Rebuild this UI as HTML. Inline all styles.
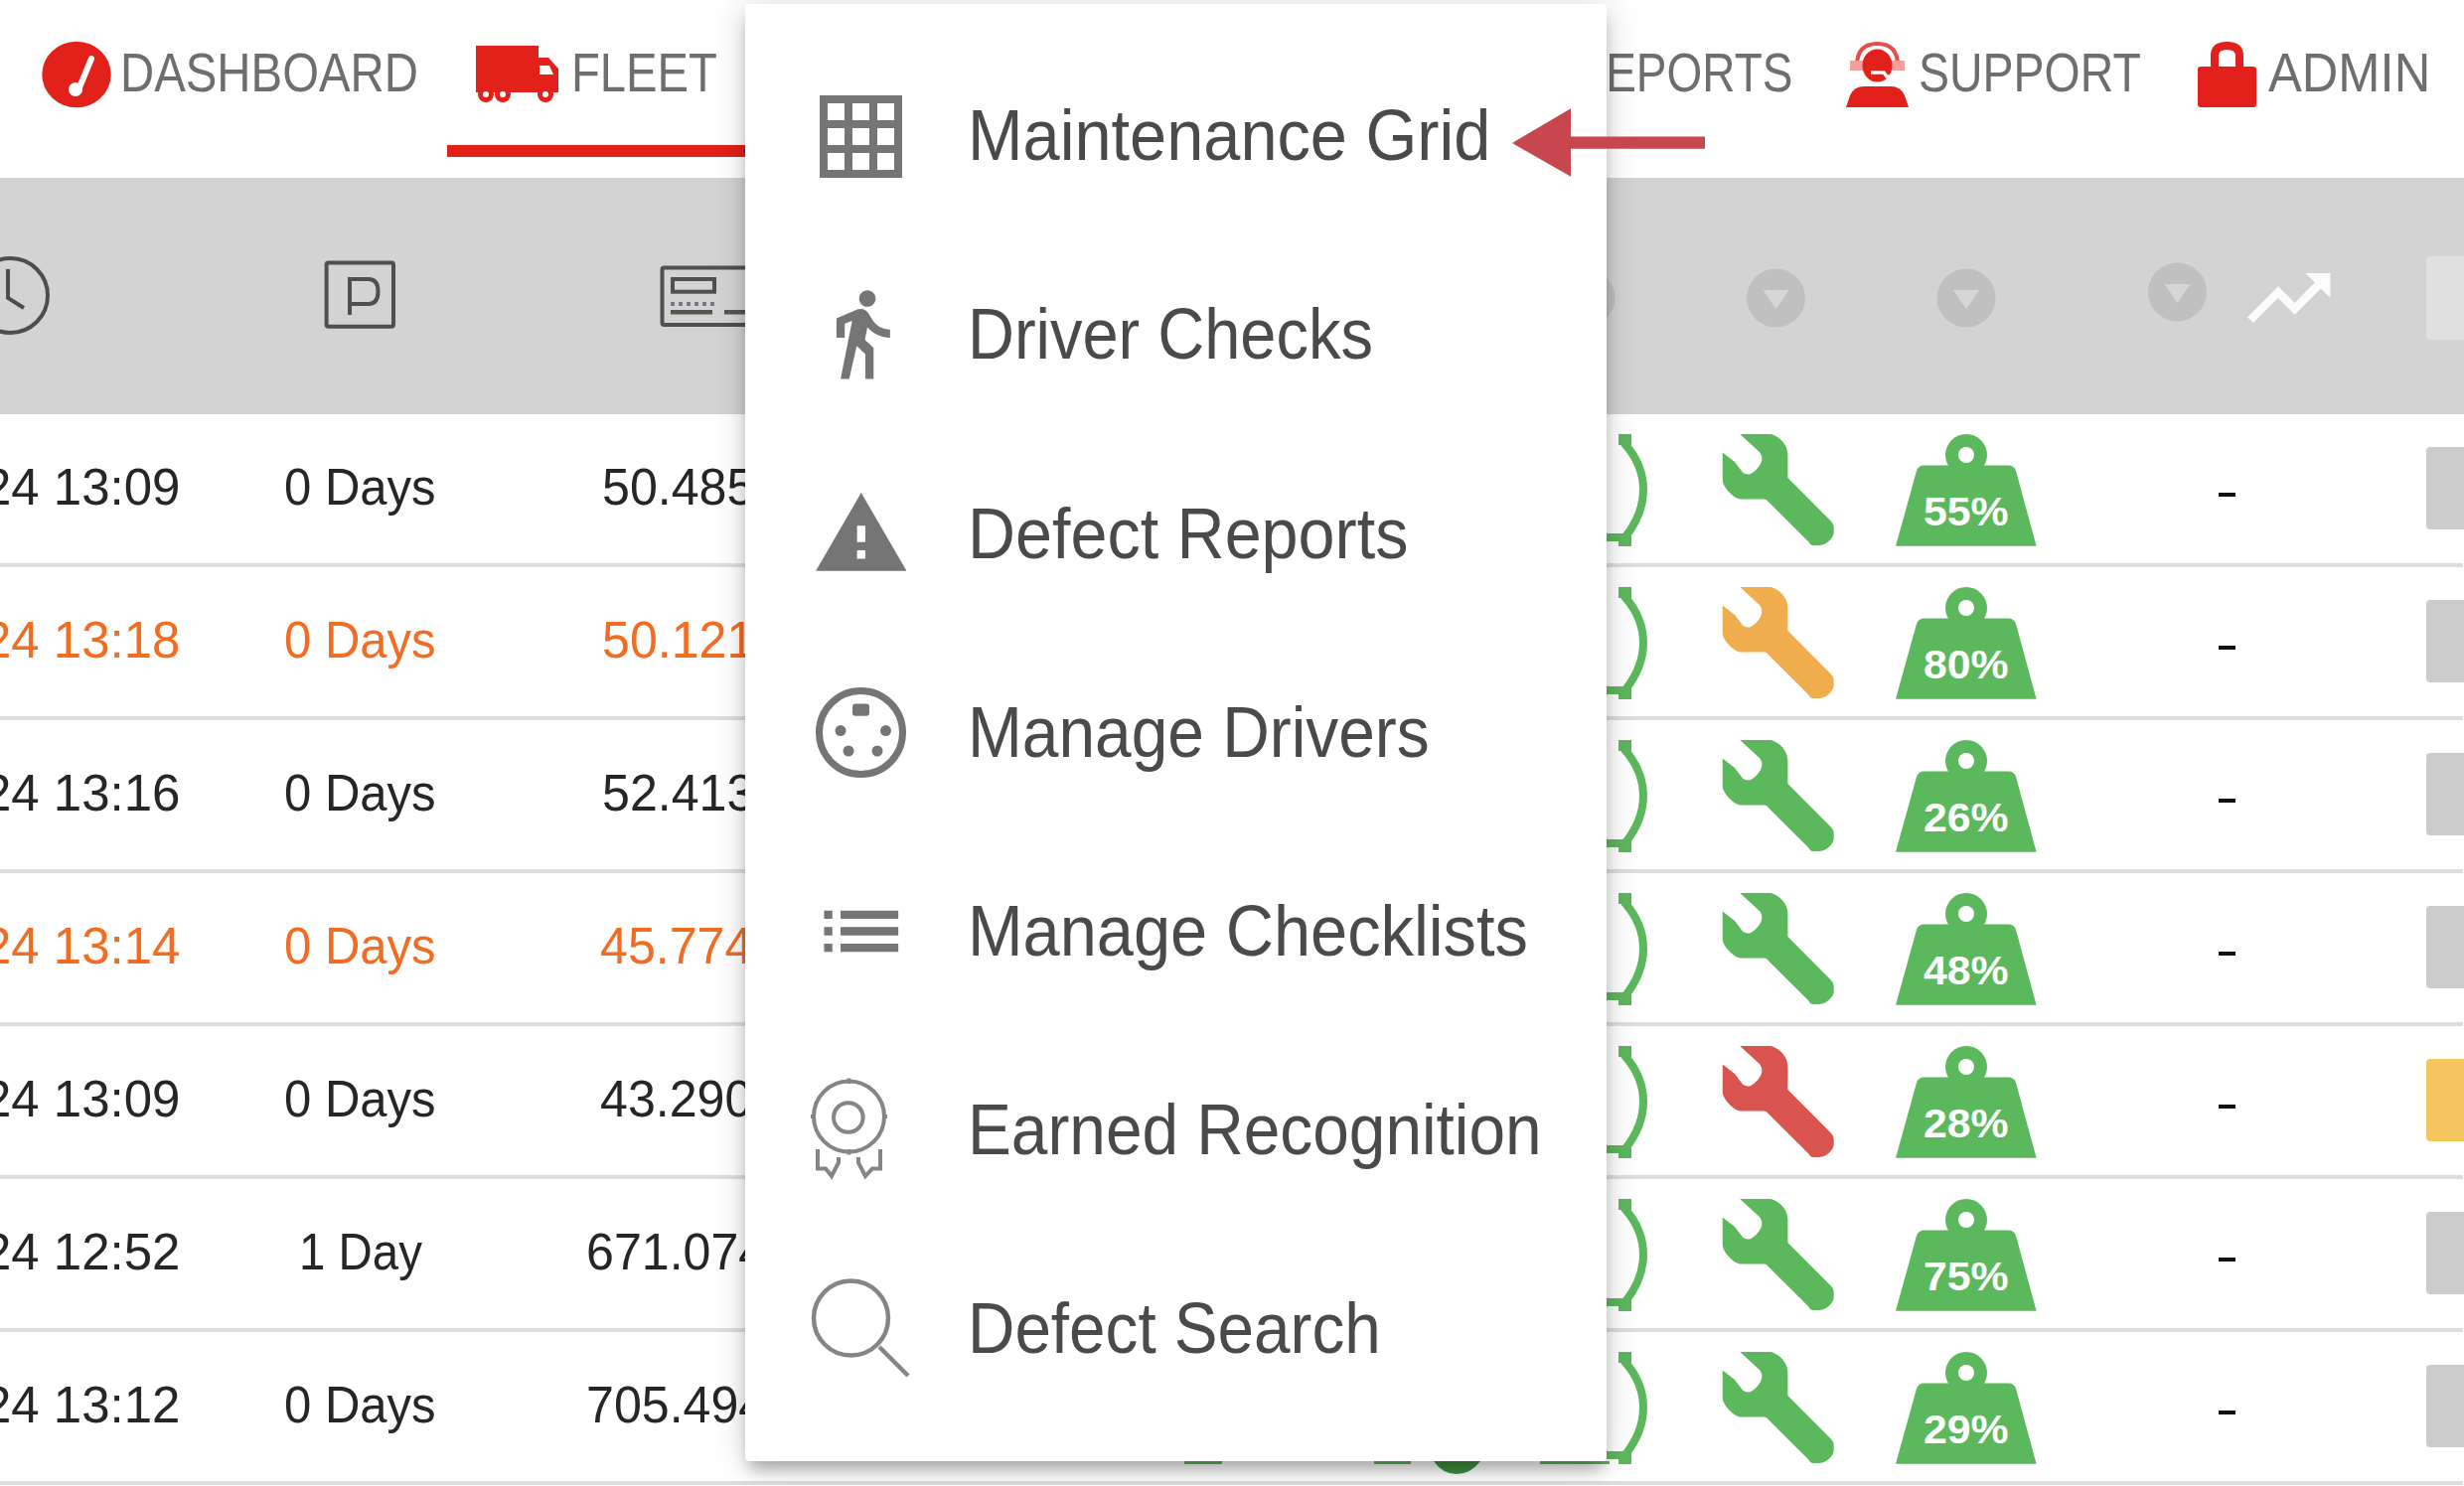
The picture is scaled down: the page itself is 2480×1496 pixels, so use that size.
<!DOCTYPE html><html><head><meta charset="utf-8"><style>
html,body{margin:0;padding:0;width:2480px;height:1496px;overflow:hidden;background:#fff}
.t{position:absolute;white-space:nowrap;line-height:1;font-family:"Liberation Sans",sans-serif;transform-origin:0 0}
svg{position:absolute;left:0;top:0}
#menu{position:absolute;left:750px;top:4px;width:867px;height:1467px;background:#fff;border-radius:4px;
box-shadow:0 12px 16px -4px rgba(0,0,0,.3),0 0 36px 0 rgba(0,0,0,.15);overflow:hidden}
</style></head><body>
<svg width="2480" height="1496" viewBox="0 0 2480 1496"><rect x="0" y="179" width="2480" height="238" fill="#d3d3d3"/><rect x="450" y="146" width="320" height="12" fill="#e2211a"/><rect x="0" y="567" width="2479" height="4" fill="#dedede"/><rect x="0" y="721" width="2479" height="4" fill="#dedede"/><rect x="0" y="875" width="2479" height="4" fill="#dedede"/><rect x="0" y="1029" width="2479" height="4" fill="#dedede"/><rect x="0" y="1183" width="2479" height="4" fill="#dedede"/><rect x="0" y="1337" width="2479" height="4" fill="#dedede"/><rect x="0" y="1491" width="2479" height="4" fill="#dedede"/><ellipse cx="77" cy="75" rx="34.7" ry="33.2" fill="#e2211a"/><path d="M92 59 L80 88" stroke="#fff" stroke-width="6" stroke-linecap="round"/><circle cx="76" cy="90" r="7" fill="#fff"/><g fill="#e2211a"><rect x="479" y="46" width="63" height="47"/><path d="M541 58 L552 58 L562 69 L562 93 L541 93 Z"/><circle cx="489" cy="95" r="8"/><circle cx="506" cy="95" r="8"/><circle cx="549" cy="95" r="8"/></g><path d="M543 66 L553 66 L557 75 L543 75 Z" fill="#fff"/><g fill="#fff"><circle cx="489" cy="95" r="3"/><circle cx="506" cy="95" r="3"/><circle cx="549" cy="95" r="3"/></g><path d="M1869 66 Q1869 44 1889.5 44 Q1910 44 1910 66" fill="none" stroke="#e2211a" stroke-width="4" opacity="0.8"/><rect x="1862" y="61" width="13" height="10" fill="#f4a09a"/><rect x="1904" y="61" width="13" height="10" fill="#f4a09a"/><g fill="#e2211a"><ellipse cx="1889.5" cy="66" rx="15" ry="16.5"/><path d="M1858 108 L1862 96 Q1866 87 1876 87 L1903 87 Q1913 87 1917 96 L1921 108 Z"/></g><path d="M1883 73 L1896 73 L1899 77 L1905 77" fill="none" stroke="#fff" stroke-width="3.5"/><g fill="#e2211a"><rect x="2212" y="67" width="59" height="41" rx="3"/></g><path d="M2229 68 L2229 56 Q2229 46 2241.5 46 Q2254 46 2254 56 L2254 68" fill="none" stroke="#e2211a" stroke-width="8"/><g fill="none" stroke="#4d4d4d" stroke-width="4"><circle cx="10.5" cy="297.5" r="37.5"/><polyline points="8,271 8,300 24,310"/></g><g fill="none" stroke="#4f4f4f" stroke-width="4"><rect x="328.6" y="264.6" width="67.4" height="64.2" rx="2"/><path d="M352 317 L352 281 L371 281 Q380.5 281 380.5 293.5 Q380.5 306 371 306 L352 306"/></g><g fill="none" stroke="#505050" stroke-width="4"><rect x="666.5" y="269.6" width="140" height="57.4" rx="2"/><rect x="677" y="281" width="42" height="12.7"/></g><g fill="#555"><rect x="675" y="312" width="42" height="4.5"/><rect x="729" y="312" width="40" height="4.5"/></g><g fill="#7a7a86"><rect x="675" y="304" width="4" height="4"/><rect x="683" y="304" width="4" height="4"/><rect x="691" y="304" width="4" height="4"/><rect x="699" y="304" width="4" height="4"/><rect x="707" y="304" width="4" height="4"/><rect x="715" y="304" width="4" height="4"/></g><circle cx="1596" cy="300" r="29.5" fill="#c0c0c0"/><path d="M1583 292 L1609 292 L1596 311 Z" fill="#d6d6d6"/><circle cx="1787.5" cy="300" r="29.5" fill="#c0c0c0"/><path d="M1774.5 292 L1800.5 292 L1787.5 311 Z" fill="#d6d6d6"/><circle cx="1979" cy="300" r="29.5" fill="#c0c0c0"/><path d="M1966 292 L1992 292 L1979 311 Z" fill="#d6d6d6"/><circle cx="2191.5" cy="294" r="29.5" fill="#c0c0c0"/><path d="M2178.5 286 L2204.5 286 L2191.5 305 Z" fill="#d6d6d6"/><path transform="translate(2253.7,250) scale(4.17)" fill="#fbfbfb" d="M16 6l2.29 2.29-4.88 4.88-4-4L2 16.59 3.41 18l6-6 4 4 6.3-6.29L22 12V6z"/><rect x="2442" y="258" width="60" height="84" rx="4" fill="#e0e0e0"/><g fill="#5cb85c" transform="translate(0,0)"><path d="M1635.5 437 L1635.5 447 Q1654 468 1654 493 Q1654 518 1635.5 541 L1600 541" fill="none" stroke="#5cb85c" stroke-width="8"/><rect x="1629" y="437" width="13" height="11"/><rect x="1629" y="537" width="13" height="13"/></g><path transform="translate(1733,437)" fill="#5cb85c" d="M18.2 0 L49.7 0 Q58.5 3 63 10 Q66.4 15 66.4 22 L66.4 44 L109.2 87 Q112.7 90 112.7 95 L112.7 99.7 Q112 104 107.5 108 Q103 112 97 112 L92 112 Q89 112 87.4 108.5 L46.2 67.4 Q45 65.6 43 65.6 L18.2 65.6 Q12 64 6 57 Q0.75 51 0.75 46 L0.75 18.4 L13 28 L20.9 38.5 Q24 41 28.7 40.2 Q35 37 39 30 Q42 24 38.4 18.4 Z"/><g transform="translate(1908,437)" fill="#5cb85c"><circle cx="71" cy="21" r="21"/><path d="M0 112.7 L21 37 Q23 31.5 28.5 31.5 L113.5 31.5 Q119 31.5 121 37 L141.6 112.7 Z"/><circle cx="71" cy="21" r="8" fill="#fff"/></g><rect x="2233" y="496" width="17" height="4" fill="#111"/><rect x="2442" y="450" width="60" height="83" rx="4" fill="#cccccc"/><g fill="#5cb85c" transform="translate(0,154)"><path d="M1635.5 437 L1635.5 447 Q1654 468 1654 493 Q1654 518 1635.5 541 L1600 541" fill="none" stroke="#5cb85c" stroke-width="8"/><rect x="1629" y="437" width="13" height="11"/><rect x="1629" y="537" width="13" height="13"/></g><path transform="translate(1733,591)" fill="#f0ad4e" d="M18.2 0 L49.7 0 Q58.5 3 63 10 Q66.4 15 66.4 22 L66.4 44 L109.2 87 Q112.7 90 112.7 95 L112.7 99.7 Q112 104 107.5 108 Q103 112 97 112 L92 112 Q89 112 87.4 108.5 L46.2 67.4 Q45 65.6 43 65.6 L18.2 65.6 Q12 64 6 57 Q0.75 51 0.75 46 L0.75 18.4 L13 28 L20.9 38.5 Q24 41 28.7 40.2 Q35 37 39 30 Q42 24 38.4 18.4 Z"/><g transform="translate(1908,591)" fill="#5cb85c"><circle cx="71" cy="21" r="21"/><path d="M0 112.7 L21 37 Q23 31.5 28.5 31.5 L113.5 31.5 Q119 31.5 121 37 L141.6 112.7 Z"/><circle cx="71" cy="21" r="8" fill="#fff"/></g><rect x="2233" y="650" width="17" height="4" fill="#111"/><rect x="2442" y="604" width="60" height="83" rx="4" fill="#cccccc"/><g fill="#5cb85c" transform="translate(0,308)"><path d="M1635.5 437 L1635.5 447 Q1654 468 1654 493 Q1654 518 1635.5 541 L1600 541" fill="none" stroke="#5cb85c" stroke-width="8"/><rect x="1629" y="437" width="13" height="11"/><rect x="1629" y="537" width="13" height="13"/></g><path transform="translate(1733,745)" fill="#5cb85c" d="M18.2 0 L49.7 0 Q58.5 3 63 10 Q66.4 15 66.4 22 L66.4 44 L109.2 87 Q112.7 90 112.7 95 L112.7 99.7 Q112 104 107.5 108 Q103 112 97 112 L92 112 Q89 112 87.4 108.5 L46.2 67.4 Q45 65.6 43 65.6 L18.2 65.6 Q12 64 6 57 Q0.75 51 0.75 46 L0.75 18.4 L13 28 L20.9 38.5 Q24 41 28.7 40.2 Q35 37 39 30 Q42 24 38.4 18.4 Z"/><g transform="translate(1908,745)" fill="#5cb85c"><circle cx="71" cy="21" r="21"/><path d="M0 112.7 L21 37 Q23 31.5 28.5 31.5 L113.5 31.5 Q119 31.5 121 37 L141.6 112.7 Z"/><circle cx="71" cy="21" r="8" fill="#fff"/></g><rect x="2233" y="804" width="17" height="4" fill="#111"/><rect x="2442" y="758" width="60" height="83" rx="4" fill="#cccccc"/><g fill="#5cb85c" transform="translate(0,462)"><path d="M1635.5 437 L1635.5 447 Q1654 468 1654 493 Q1654 518 1635.5 541 L1600 541" fill="none" stroke="#5cb85c" stroke-width="8"/><rect x="1629" y="437" width="13" height="11"/><rect x="1629" y="537" width="13" height="13"/></g><path transform="translate(1733,899)" fill="#5cb85c" d="M18.2 0 L49.7 0 Q58.5 3 63 10 Q66.4 15 66.4 22 L66.4 44 L109.2 87 Q112.7 90 112.7 95 L112.7 99.7 Q112 104 107.5 108 Q103 112 97 112 L92 112 Q89 112 87.4 108.5 L46.2 67.4 Q45 65.6 43 65.6 L18.2 65.6 Q12 64 6 57 Q0.75 51 0.75 46 L0.75 18.4 L13 28 L20.9 38.5 Q24 41 28.7 40.2 Q35 37 39 30 Q42 24 38.4 18.4 Z"/><g transform="translate(1908,899)" fill="#5cb85c"><circle cx="71" cy="21" r="21"/><path d="M0 112.7 L21 37 Q23 31.5 28.5 31.5 L113.5 31.5 Q119 31.5 121 37 L141.6 112.7 Z"/><circle cx="71" cy="21" r="8" fill="#fff"/></g><rect x="2233" y="958" width="17" height="4" fill="#111"/><rect x="2442" y="912" width="60" height="83" rx="4" fill="#cccccc"/><g fill="#5cb85c" transform="translate(0,616)"><path d="M1635.5 437 L1635.5 447 Q1654 468 1654 493 Q1654 518 1635.5 541 L1600 541" fill="none" stroke="#5cb85c" stroke-width="8"/><rect x="1629" y="437" width="13" height="11"/><rect x="1629" y="537" width="13" height="13"/></g><path transform="translate(1733,1053)" fill="#d9534f" d="M18.2 0 L49.7 0 Q58.5 3 63 10 Q66.4 15 66.4 22 L66.4 44 L109.2 87 Q112.7 90 112.7 95 L112.7 99.7 Q112 104 107.5 108 Q103 112 97 112 L92 112 Q89 112 87.4 108.5 L46.2 67.4 Q45 65.6 43 65.6 L18.2 65.6 Q12 64 6 57 Q0.75 51 0.75 46 L0.75 18.4 L13 28 L20.9 38.5 Q24 41 28.7 40.2 Q35 37 39 30 Q42 24 38.4 18.4 Z"/><g transform="translate(1908,1053)" fill="#5cb85c"><circle cx="71" cy="21" r="21"/><path d="M0 112.7 L21 37 Q23 31.5 28.5 31.5 L113.5 31.5 Q119 31.5 121 37 L141.6 112.7 Z"/><circle cx="71" cy="21" r="8" fill="#fff"/></g><rect x="2233" y="1112" width="17" height="4" fill="#111"/><rect x="2442" y="1066" width="60" height="83" rx="4" fill="#f5c560"/><g fill="#5cb85c" transform="translate(0,770)"><path d="M1635.5 437 L1635.5 447 Q1654 468 1654 493 Q1654 518 1635.5 541 L1600 541" fill="none" stroke="#5cb85c" stroke-width="8"/><rect x="1629" y="437" width="13" height="11"/><rect x="1629" y="537" width="13" height="13"/></g><path transform="translate(1733,1207)" fill="#5cb85c" d="M18.2 0 L49.7 0 Q58.5 3 63 10 Q66.4 15 66.4 22 L66.4 44 L109.2 87 Q112.7 90 112.7 95 L112.7 99.7 Q112 104 107.5 108 Q103 112 97 112 L92 112 Q89 112 87.4 108.5 L46.2 67.4 Q45 65.6 43 65.6 L18.2 65.6 Q12 64 6 57 Q0.75 51 0.75 46 L0.75 18.4 L13 28 L20.9 38.5 Q24 41 28.7 40.2 Q35 37 39 30 Q42 24 38.4 18.4 Z"/><g transform="translate(1908,1207)" fill="#5cb85c"><circle cx="71" cy="21" r="21"/><path d="M0 112.7 L21 37 Q23 31.5 28.5 31.5 L113.5 31.5 Q119 31.5 121 37 L141.6 112.7 Z"/><circle cx="71" cy="21" r="8" fill="#fff"/></g><rect x="2233" y="1266" width="17" height="4" fill="#111"/><rect x="2442" y="1220" width="60" height="83" rx="4" fill="#cccccc"/><g fill="#5cb85c" transform="translate(0,924)"><path d="M1635.5 437 L1635.5 447 Q1654 468 1654 493 Q1654 518 1635.5 541 L1600 541" fill="none" stroke="#5cb85c" stroke-width="8"/><rect x="1629" y="437" width="13" height="11"/><rect x="1629" y="537" width="13" height="13"/></g><path transform="translate(1733,1361)" fill="#5cb85c" d="M18.2 0 L49.7 0 Q58.5 3 63 10 Q66.4 15 66.4 22 L66.4 44 L109.2 87 Q112.7 90 112.7 95 L112.7 99.7 Q112 104 107.5 108 Q103 112 97 112 L92 112 Q89 112 87.4 108.5 L46.2 67.4 Q45 65.6 43 65.6 L18.2 65.6 Q12 64 6 57 Q0.75 51 0.75 46 L0.75 18.4 L13 28 L20.9 38.5 Q24 41 28.7 40.2 Q35 37 39 30 Q42 24 38.4 18.4 Z"/><g transform="translate(1908,1361)" fill="#5cb85c"><circle cx="71" cy="21" r="21"/><path d="M0 112.7 L21 37 Q23 31.5 28.5 31.5 L113.5 31.5 Q119 31.5 121 37 L141.6 112.7 Z"/><circle cx="71" cy="21" r="8" fill="#fff"/></g><rect x="2233" y="1420" width="17" height="4" fill="#111"/><rect x="2442" y="1374" width="60" height="83" rx="4" fill="#cccccc"/><g fill="#5cb85c"><rect x="1192" y="1471" width="38" height="3"/><rect x="1383" y="1471" width="37" height="3"/><path d="M1443 1471 L1490 1471 Q1480 1484 1466 1484 Q1452 1484 1443 1471 Z" fill="#3f8f3f"/><rect x="1550" y="1471" width="70" height="3"/></g></svg>
<div class="t" style="left:121.21px;top:46.25px;font-size:55px;transform:scaleX(0.8610);color:#6e6e6e;font-weight:400;">DASHBOARD</div>
<div class="t" style="left:574.82px;top:46.25px;font-size:55px;transform:scaleX(0.8580);color:#6e6e6e;font-weight:400;">FLEET</div>
<div class="t" style="left:1582.68px;top:46.25px;font-size:55px;transform:scaleX(0.8360);color:#6e6e6e;font-weight:400;">REPORTS</div>
<div class="t" style="left:1931.28px;top:46.25px;font-size:55px;transform:scaleX(0.8450);color:#6e6e6e;font-weight:400;">SUPPORT</div>
<div class="t" style="left:2283.00px;top:46.25px;font-size:55px;transform:scaleX(0.9210);color:#6e6e6e;font-weight:400;">ADMIN</div>
<div class="t" style="left:-17.20px;top:463.80px;font-size:52px;transform:scaleX(0.9800);color:#262626;font-weight:400;">24 13:09</div>
<div class="t" style="left:285.54px;top:463.80px;font-size:52px;transform:scaleX(0.9430);color:#262626;font-weight:400;">0 Days</div>
<div class="t" style="left:605.79px;top:463.80px;font-size:52px;transform:scaleX(0.9640);color:#262626;font-weight:400;">50.4856</div>
<div class="t" style="left:-17.20px;top:617.80px;font-size:52px;transform:scaleX(0.9800);color:#f26c22;font-weight:400;">24 13:18</div>
<div class="t" style="left:285.54px;top:617.80px;font-size:52px;transform:scaleX(0.9430);color:#f26c22;font-weight:400;">0 Days</div>
<div class="t" style="left:605.79px;top:617.80px;font-size:52px;transform:scaleX(0.9640);color:#f26c22;font-weight:400;">50.1217</div>
<div class="t" style="left:-17.20px;top:771.80px;font-size:52px;transform:scaleX(0.9800);color:#262626;font-weight:400;">24 13:16</div>
<div class="t" style="left:285.54px;top:771.80px;font-size:52px;transform:scaleX(0.9430);color:#262626;font-weight:400;">0 Days</div>
<div class="t" style="left:605.79px;top:771.80px;font-size:52px;transform:scaleX(0.9640);color:#262626;font-weight:400;">52.4135</div>
<div class="t" style="left:-17.20px;top:925.80px;font-size:52px;transform:scaleX(0.9800);color:#f26c22;font-weight:400;">24 13:14</div>
<div class="t" style="left:285.54px;top:925.80px;font-size:52px;transform:scaleX(0.9430);color:#f26c22;font-weight:400;">0 Days</div>
<div class="t" style="left:603.50px;top:925.80px;font-size:52px;transform:scaleX(0.9640);color:#f26c22;font-weight:400;">45.7742</div>
<div class="t" style="left:-17.20px;top:1079.80px;font-size:52px;transform:scaleX(0.9800);color:#262626;font-weight:400;">24 13:09</div>
<div class="t" style="left:285.54px;top:1079.80px;font-size:52px;transform:scaleX(0.9430);color:#262626;font-weight:400;">0 Days</div>
<div class="t" style="left:603.50px;top:1079.80px;font-size:52px;transform:scaleX(0.9640);color:#262626;font-weight:400;">43.2905</div>
<div class="t" style="left:-17.20px;top:1233.80px;font-size:52px;transform:scaleX(0.9800);color:#262626;font-weight:400;">24 12:52</div>
<div class="t" style="left:300.91px;top:1233.80px;font-size:52px;transform:scaleX(0.9120);color:#262626;font-weight:400;">1 Day</div>
<div class="t" style="left:590.49px;top:1233.80px;font-size:52px;transform:scaleX(0.9640);color:#262626;font-weight:400;">671.0745</div>
<div class="t" style="left:-17.20px;top:1387.80px;font-size:52px;transform:scaleX(0.9800);color:#262626;font-weight:400;">24 13:12</div>
<div class="t" style="left:285.54px;top:1387.80px;font-size:52px;transform:scaleX(0.9430);color:#262626;font-weight:400;">0 Days</div>
<div class="t" style="left:590.49px;top:1387.80px;font-size:52px;transform:scaleX(0.9640);color:#262626;font-weight:400;">705.4945</div>
<div class="t" style="left:1936.22px;top:494.50px;font-size:40px;transform:scaleX(1.0700);color:#fff;font-weight:700;">55%</div>
<div class="t" style="left:1936.22px;top:648.50px;font-size:40px;transform:scaleX(1.0700);color:#fff;font-weight:700;">80%</div>
<div class="t" style="left:1936.22px;top:802.50px;font-size:40px;transform:scaleX(1.0700);color:#fff;font-weight:700;">26%</div>
<div class="t" style="left:1936.22px;top:956.50px;font-size:40px;transform:scaleX(1.0700);color:#fff;font-weight:700;">48%</div>
<div class="t" style="left:1936.22px;top:1110.50px;font-size:40px;transform:scaleX(1.0700);color:#fff;font-weight:700;">28%</div>
<div class="t" style="left:1936.22px;top:1264.50px;font-size:40px;transform:scaleX(1.0700);color:#fff;font-weight:700;">75%</div>
<div class="t" style="left:1936.22px;top:1418.50px;font-size:40px;transform:scaleX(1.0700);color:#fff;font-weight:700;">29%</div>
<div id="menu"></div>
<svg width="2480" height="1496" viewBox="0 0 2480 1496"><g fill="#757575"><rect x="825" y="96" width="83" height="8"/><rect x="825" y="121" width="83" height="8"/><rect x="825" y="146" width="83" height="8"/><rect x="825" y="171" width="83" height="8"/><rect x="825" y="96" width="8" height="83"/><rect x="850" y="96" width="8" height="83"/><rect x="875" y="96" width="8" height="83"/><rect x="900" y="96" width="8" height="83"/></g><path transform="translate(817,286) scale(4.15)" fill="#757575" d="M13.5 5.5c1.1 0 2-.9 2-2s-.9-2-2-2-2 .9-2 2 .9 2 2 2zM9.8 8.9L7 23h2.1l1.8-8 2.1 2v6h2v-7.5l-2.1-2 .6-3C14.8 12 16.8 13 19 13v-2c-1.9 0-3.5-1-4.3-2.4l-1-1.6c-.4-.6-1-1-1.7-1-.3 0-.5.1-.8.1L6 8.3V13h2V9.6l1.8-.7"/><path transform="translate(817,487.7) scale(4.15)" fill="#757575" d="M1 21h22L12 2 1 21zm12-3h-2v-2h2v2zm0-4h-2v-4h2v4z"/><circle cx="866.5" cy="737.5" r="42" fill="none" stroke="#757575" stroke-width="7"/><g fill="#757575"><rect x="858" y="708.5" width="17" height="12.2" rx="3"/><circle cx="846" cy="735.6" r="5.5"/><circle cx="891.5" cy="735.6" r="5.5"/><circle cx="854" cy="756" r="5.5"/><circle cx="883" cy="756" r="5.5"/></g><path transform="translate(817,887.7) scale(4.15)" fill="#757575" d="M3 13h2v-2H3v2zm0 4h2v-2H3v2zm0-8h2V7H3v2zm4 4h14v-2H7v2zm0 4h14v-2H7v2zM7 7v2h14V7H7z"/><g fill="none" stroke="#858585" stroke-width="4"><circle cx="854.5" cy="1124" r="35.5"/><circle cx="853.8" cy="1125" r="14.8"/><path d="M854.5 1085.5 L854.5 1091 M854.5 1157 L854.5 1162.5 M816 1124 L821 1124 M888 1124 L893 1124"/><polyline points="823,1157 823,1176.5 831,1176.5 837,1184 844,1170.5 844,1165"/><polyline points="886,1157 886,1176.5 878,1176.5 871,1184 864,1170.5 864,1165"/></g><g fill="none" stroke="#858585" stroke-width="4.5"><circle cx="856.5" cy="1327" r="37.5"/><line x1="885" y1="1356" x2="914" y2="1385"/></g></svg>
<div class="t" style="left:973.66px;top:100.38px;font-size:72.5px;transform:scaleX(0.9200);color:#4a4a4a;font-weight:400;">Maintenance Grid</div>
<div class="t" style="left:973.80px;top:300.48px;font-size:72.5px;transform:scaleX(0.8960);color:#4a4a4a;font-weight:400;">Driver Checks</div>
<div class="t" style="left:973.68px;top:500.58px;font-size:72.5px;transform:scaleX(0.9170);color:#4a4a4a;font-weight:400;">Defect Reports</div>
<div class="t" style="left:973.73px;top:700.67px;font-size:72.5px;transform:scaleX(0.9080);color:#4a4a4a;font-weight:400;">Manage Drivers</div>
<div class="t" style="left:973.66px;top:900.77px;font-size:72.5px;transform:scaleX(0.9206);color:#4a4a4a;font-weight:400;">Manage Checklists</div>
<div class="t" style="left:973.74px;top:1100.88px;font-size:72.5px;transform:scaleX(0.9070);color:#4a4a4a;font-weight:400;">Earned Recognition</div>
<div class="t" style="left:973.75px;top:1300.97px;font-size:72.5px;transform:scaleX(0.9050);color:#4a4a4a;font-weight:400;">Defect Search</div>
<svg width="2480" height="1496" viewBox="0 0 2480 1496"><path d="M1522 144 L1581 109.3 L1581 137.6 L1716 137.6 L1716 149.8 L1581 149.8 L1581 177.8 Z" fill="#c8474e"/></svg>
</body></html>
